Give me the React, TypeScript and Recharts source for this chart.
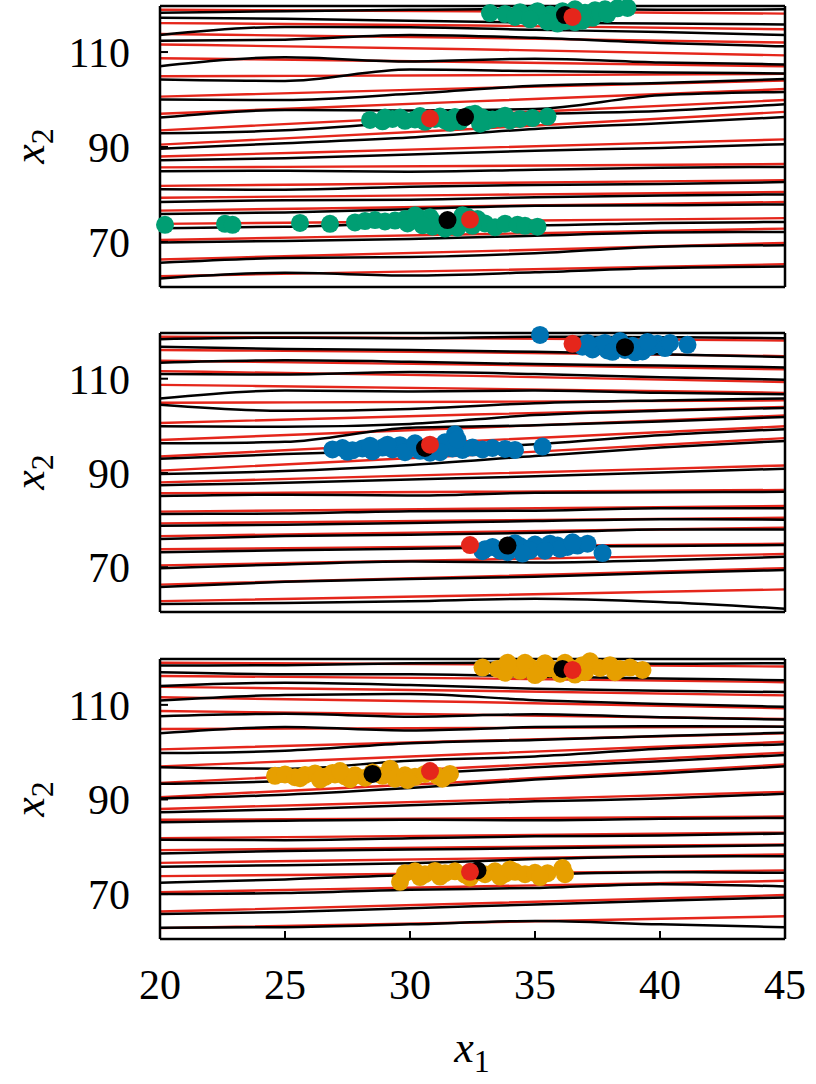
import { ComposedChart, Line, Scatter, XAxis, YAxis } from 'recharts';

// axis ticks
const xTicks = [20, 25, 30, 35, 40, 45];
const xTicksInner = [25, 30, 35, 40];
const yTicks = [70, 90, 110];

// x positions of the sampled streamlines
const redXs = [20, 32.5, 45];
const blackXs = [20, 25, 30, 35, 40, 45];

// reference streamlines (red), shared by all panels
const redLines = [
  [118.9, 118.6, 118.1],
  [116.1, 115.6, 114.8],
  [113.8, 113.0, 112.0],
  [111.6, 110.6, 109.3],
  [108.7, 107.9, 107.0],
  [104.9, 105.1, 105.4],
  [100.6, 102.4, 104.0],
  [97.0, 99.6, 102.2],
  [93.5, 96.8, 99.9],
  [90.5, 93.8, 97.4],
  [88.0, 89.8, 91.6],
  [85.7, 86.0, 86.4],
  [81.8, 82.4, 83.0],
  [79.3, 79.9, 80.5],
  [76.6, 77.5, 78.4],
  [73.8, 74.4, 75.0],
  [70.4, 71.6, 72.8],
  [66.3, 68.0, 69.8],
  [62.8, 64.0, 65.3],
];

// learned streamlines (black), one set per panel
const blackTop = [
  [118.3, 118.6, 118.9, 119.1, 118.9, 119.0],
  [117.2, 117.0, 116.6, 116.2, 116.0, 115.8],
  [113.6, 115.3, 115.2, 114.7, 114.2, 113.6],
  [112.4, 112.6, 113.6, 113.0, 111.9, 111.2],
  [107.0, 108.9, 108.0, 108.6, 107.8, 107.4],
  [104.2, 103.9, 106.3, 106.0, 105.7, 105.5],
  [100.0, 99.9, 101.2, 102.9, 103.5, 104.3],
  [96.2, 97.8, 97.7, 98.0, 100.9, 101.6],
  [92.9, 93.5, 95.3, 96.9, 97.6, 99.0],
  [89.6, 90.8, 92.0, 93.8, 95.0, 96.3],
  [87.2, 87.6, 88.4, 89.2, 89.8, 90.6],
  [84.9, 85.0, 84.8, 85.2, 85.6, 85.8],
  [81.1, 81.0, 81.6, 82.0, 82.2, 82.6],
  [78.4, 78.8, 78.9, 79.4, 79.8, 80.0],
  [75.9, 76.2, 76.9, 77.6, 77.7, 77.9],
  [72.9, 73.2, 73.8, 73.5, 74.0, 74.2],
  [69.9, 70.2, 70.6, 71.3, 72.0, 72.1],
  [65.6, 66.6, 66.8, 67.6, 69.0, 69.3],
  [62.3, 63.5, 62.9, 63.6, 64.5, 64.8],
];

const blackMid = [
  [118.4, 118.7, 118.6, 118.9, 118.8, 118.6],
  [116.8, 116.3, 116.1, 115.7, 115.2, 114.6],
  [113.4, 113.9, 113.6, 113.1, 112.8, 112.4],
  [111.0, 110.9, 111.4, 111.0, 110.3, 109.8],
  [105.8, 107.5, 107.3, 107.5, 107.0, 106.7],
  [104.5, 103.2, 103.6, 104.8, 105.4, 105.8],
  [99.9, 99.8, 100.4, 102.3, 103.2, 103.8],
  [96.3, 96.6, 99.6, 100.1, 100.9, 101.9],
  [93.0, 94.0, 94.8, 96.1, 98.0, 99.3],
  [89.8, 90.4, 91.7, 93.6, 95.4, 96.8],
  [87.4, 87.9, 88.6, 89.3, 90.1, 90.9],
  [85.1, 85.4, 85.2, 85.8, 85.9, 86.0],
  [81.3, 81.4, 81.9, 82.0, 82.5, 82.5],
  [78.8, 79.0, 79.4, 79.8, 80.2, 80.1],
  [76.0, 76.6, 76.9, 77.3, 78.0, 78.0],
  [73.2, 73.6, 73.9, 74.3, 74.5, 74.7],
  [69.8, 70.6, 71.2, 71.0, 71.5, 72.2],
  [65.8, 66.9, 67.5, 68.0, 68.8, 69.4],
  [62.2, 62.4, 62.8, 63.3, 62.6, 61.2],
];

const blackLow = [
  [118.3, 118.4, 118.8, 118.9, 118.7, 118.8],
  [116.9, 116.5, 116.5, 116.0, 115.6, 115.2],
  [114.0, 114.7, 114.2, 113.4, 113.0, 112.7],
  [110.9, 112.1, 112.3, 111.0, 110.2, 109.6],
  [107.6, 108.1, 107.5, 108.0, 107.4, 106.9],
  [104.0, 105.3, 104.6, 105.3, 105.5, 105.4],
  [99.8, 100.3, 101.9, 102.6, 103.4, 104.1],
  [96.8, 96.5, 98.2, 99.1, 100.7, 101.7],
  [93.3, 93.9, 95.4, 96.8, 98.1, 99.4],
  [90.2, 91.0, 92.4, 94.2, 95.5, 97.0],
  [87.3, 87.9, 88.8, 89.6, 90.2, 91.2],
  [85.2, 85.5, 85.7, 85.6, 85.9, 86.1],
  [81.5, 81.4, 81.8, 82.2, 82.4, 82.8],
  [78.6, 79.1, 79.4, 79.7, 80.0, 80.3],
  [75.8, 76.1, 76.5, 77.4, 77.9, 78.0],
  [72.4, 73.1, 74.0, 74.2, 74.6, 74.5],
  [70.0, 70.2, 70.9, 71.3, 72.1, 71.6],
  [65.8, 66.2, 67.0, 67.8, 68.6, 69.3],
  [62.9, 63.0, 63.6, 64.3, 63.6, 63.0],
];

// sample clouds
const greenCloud = [
  [33.2, 118.2], [33.8, 118.0], [34.4, 118.4], [34.9, 118.0], [35.3, 117.4], [35.8, 116.8],
  [35.6, 117.9], [36.1, 118.6], [36.6, 119.0], [37.0, 118.3], [37.4, 118.8], [37.8, 119.0],
  [38.3, 119.2], [38.7, 119.3], [36.2, 116.5], [36.8, 117.0], [37.3, 117.2], [34.6, 117.6],
  [35.1, 118.6], [36.9, 116.6], [35.5, 116.4], [34.2, 117.4], [37.6, 118.2], [36.4, 117.6],
  [35.9, 116.0], [36.6, 116.3], [34.8, 116.9], [37.9, 118.0],
  [28.4, 95.7], [28.9, 95.4], [29.3, 95.9], [29.8, 95.5], [30.2, 95.8], [30.6, 95.3],
  [31.0, 95.9], [31.4, 95.6], [31.8, 96.3], [32.0, 95.4], [32.4, 96.8], [32.6, 97.0],
  [32.9, 96.2], [33.3, 95.8], [33.6, 96.0], [34.0, 95.6], [34.4, 95.9], [34.9, 96.1],
  [35.5, 96.4], [31.2, 96.4], [33.0, 95.3], [29.6, 96.2], [30.4, 96.5], [31.6, 95.1],
  [32.8, 94.9], [33.8, 96.6], [29.0, 96.2],
  [20.2, 73.6], [22.6, 73.8], [22.9, 73.6], [25.6, 74.0], [26.8, 73.8], [27.8, 74.1],
  [28.2, 74.4], [28.6, 74.6], [29.0, 74.3], [29.4, 74.5], [29.8, 74.8], [30.1, 74.6],
  [30.4, 75.0], [30.7, 74.4], [31.0, 74.0], [31.3, 73.6], [31.6, 73.4], [32.0, 74.2],
  [32.3, 75.3], [32.7, 74.8], [33.0, 73.9], [33.4, 73.1], [33.8, 73.8], [34.3, 73.6],
  [34.6, 73.4], [35.1, 73.2], [30.8, 75.2], [29.9, 73.9], [30.9, 73.2], [31.9, 73.0],
  [30.2, 75.6], [32.5, 73.4], [31.4, 72.8], [30.5, 73.5], [32.1, 75.6],
];

const blueCloud = [
  [35.2, 119.3], [36.9, 116.8], [37.3, 116.2], [37.6, 117.2], [37.9, 116.0], [38.3, 117.5],
  [38.6, 116.1], [38.9, 117.0], [39.3, 115.8], [39.6, 116.8], [39.9, 117.4], [40.2, 116.5],
  [39.0, 115.6], [37.8, 117.6], [41.1, 117.2], [38.1, 115.7], [40.4, 117.6], [39.5, 117.8],
  [37.1, 117.6], [38.4, 118.0],
  [26.9, 95.0], [27.3, 95.3], [27.7, 94.8], [28.1, 95.2], [28.5, 94.6], [28.9, 95.4],
  [29.3, 95.0], [29.6, 95.9], [30.0, 95.3], [30.4, 94.7], [31.0, 95.5], [31.4, 96.5],
  [31.8, 98.2], [31.7, 95.2], [32.1, 94.9], [32.5, 95.4], [32.9, 95.0], [33.3, 95.3],
  [33.8, 95.1], [34.2, 94.9], [35.3, 95.6], [27.5, 94.5], [29.8, 94.4], [31.2, 94.4],
  [29.1, 96.0], [30.2, 96.3], [28.4, 95.8], [31.9, 97.1], [30.8, 94.3],
  [33.0, 73.8], [33.3, 74.3], [33.6, 73.5], [34.0, 74.0], [34.4, 74.5], [34.7, 73.9],
  [35.0, 74.8], [35.3, 74.2], [35.6, 75.0], [35.9, 74.6], [36.3, 74.3], [36.7, 74.6],
  [37.1, 75.0], [37.7, 73.0], [33.9, 73.2], [34.8, 73.6], [32.9, 73.4], [36.0, 73.9],
  [34.2, 75.1], [35.4, 73.5], [34.5, 72.9], [36.5, 75.3],
];

const orangeCloud = [
  [32.9, 117.9], [33.5, 117.6], [34.0, 118.3], [34.4, 117.2], [34.8, 118.0], [35.2, 116.9],
  [35.6, 117.7], [36.0, 116.6], [36.4, 117.9], [36.9, 118.4], [37.2, 119.2], [37.6, 117.8],
  [38.0, 118.4], [38.4, 117.6], [38.8, 117.9], [39.3, 117.4], [35.4, 118.8], [33.8, 116.8],
  [37.0, 116.9], [34.6, 118.9], [36.2, 118.9], [33.9, 118.9], [38.2, 116.9], [35.0, 116.3],
  [36.6, 116.4],
  [24.6, 95.0], [25.0, 95.3], [25.4, 94.7], [25.8, 95.2], [26.2, 95.5], [26.6, 94.8],
  [27.0, 95.3], [27.4, 94.9], [27.8, 95.1], [28.2, 94.6], [28.9, 95.0], [29.2, 96.5],
  [29.4, 94.4], [29.8, 95.1], [30.2, 94.8], [30.6, 95.4], [31.1, 95.0], [31.6, 95.4],
  [31.3, 94.4], [25.6, 94.5], [26.9, 95.6], [27.6, 94.3], [28.5, 95.7], [26.4, 94.2],
  [29.9, 94.1], [27.2, 96.0],
  [29.6, 72.6], [29.8, 74.4], [30.2, 74.8], [30.6, 74.2], [31.0, 74.9], [31.4, 74.4],
  [31.8, 74.8], [32.2, 74.1], [32.6, 74.6], [33.0, 74.2], [33.4, 74.8], [33.8, 74.3],
  [34.2, 74.7], [34.6, 74.2], [35.0, 74.5], [35.5, 74.4], [36.1, 75.5], [36.2, 74.2],
  [30.4, 73.6], [33.6, 73.7], [31.2, 73.7], [34.0, 75.2], [32.4, 73.5], [35.2, 73.6],
];

// true states (red) and estimates (black)
const truePoints = [[36.5, 117.4], [30.8, 96.0], [32.4, 74.7]];
const estTop = [[36.2, 117.8], [32.2, 96.3], [31.5, 74.6]];
const estMid = [[38.6, 116.7], [30.6, 95.3], [33.9, 74.6]];
const estLow = [[36.1, 117.6], [28.5, 95.4], [32.7, 75.0]];

const RED = '#e5261b';
const FONT = '"Liberation Serif", "Times New Roman", serif';

const rows = (xs: number[], ys: number[]) => xs.map((x, i) => ({ x, y: ys[i] }));
const pts = (p: number[][]) => p.map(([x, y]) => ({ x, y }));
const dot = (fill: string) => (p: any) => <circle cx={p.cx} cy={p.cy} r={9} fill={fill} />;

const frame = { stroke: '#000', strokeWidth: 2.5 };
const tickLine = { stroke: '#000', strokeWidth: 2 };

const Panel = ({ top, mTop, plotH, blacks, cloud, color, est, last }: any) => {
  const bottomH = last ? 135 : 1;
  const mBottom = last ? 0 : 9;
  return (
    <div style={{ position: 'absolute', left: 0, top }}>
      <ComposedChart
        width={816}
        height={mTop + 1 + plotH + bottomH + mBottom}
        margin={{ top: mTop, right: 0, bottom: mBottom, left: 0 }}
      >
        <XAxis
          dataKey="x"
          type="number"
          domain={[20, 45]}
          ticks={last ? xTicks : xTicksInner}
          height={bottomH}
          tickSize={-8}
          tickMargin={38}
          tick={last ? { fontSize: 42, fontFamily: FONT, fill: '#000' } : false}
          axisLine={frame}
          tickLine={tickLine}
        />
        <XAxis
          xAxisId="top"
          orientation="top"
          type="number"
          domain={[20, 45]}
          ticks={xTicksInner}
          height={1}
          tickSize={-8}
          tick={false}
          axisLine={frame}
          tickLine={tickLine}
        />
        <YAxis
          dataKey="y"
          type="number"
          domain={[60.5, 119.7]}
          ticks={yTicks}
          width={160}
          tickSize={-8}
          tickMargin={38}
          tick={{ fontSize: 42, fontFamily: FONT, fill: '#000' }}
          axisLine={frame}
          tickLine={tickLine}
        />
        <YAxis
          yAxisId="right"
          orientation="right"
          type="number"
          domain={[60.5, 119.7]}
          ticks={yTicks}
          width={31}
          tickSize={-8}
          tick={false}
          axisLine={frame}
          tickLine={tickLine}
        />
        {redLines.map((ys, i) => (
          <Line key={'r' + i} data={rows(redXs, ys)} dataKey="y" type="monotone" stroke={RED}
            strokeWidth={2.4} dot={false} isAnimationActive={false} />
        ))}
        {blacks.map((ys: number[], i: number) => (
          <Line key={'b' + i} data={rows(blackXs, ys)} dataKey="y" type="monotone" stroke="#000"
            strokeWidth={2.5} dot={false} isAnimationActive={false} />
        ))}
        <Scatter data={pts(cloud)} dataKey="y" shape={dot(color)} isAnimationActive={false} />
        <Scatter data={pts(est)} dataKey="y" shape={dot('#000')} isAnimationActive={false} />
        <Scatter data={pts(truePoints)} dataKey="y" shape={dot(RED)} isAnimationActive={false} />
      </ComposedChart>
    </div>
  );
};

const YTitle = ({ cy }: { cy: number }) => (
  <text transform={`translate(44,${cy}) rotate(-90)`} textAnchor="middle" fontFamily={FONT} fontSize={44}>
    <tspan fontStyle="italic">x</tspan>
    <tspan fontSize={32} dy={9}>2</tspan>
  </text>
);

export default function App() {
  return (
    <div style={{ position: 'absolute', left: 0, top: 0, width: 816, height: 1084, background: '#fff' }}>
      <Panel top={0} mTop={5} plotH={281} blacks={blackTop} cloud={greenCloud} color="#009e73" est={estTop} />
      <Panel top={323} mTop={9} plotH={279} blacks={blackMid} cloud={blueCloud} color="#0072b2" est={estMid} />
      <Panel top={649} mTop={9} plotH={280} blacks={blackLow} cloud={orangeCloud} color="#e69f00" est={estLow} last />
      <svg width={816} height={1084} style={{ position: 'absolute', left: 0, top: 0, pointerEvents: 'none' }}>
        <YTitle cy={146} />
        <YTitle cy={472} />
        <YTitle cy={799} />
        <text x={472} y={1062} textAnchor="middle" fontFamily={FONT} fontSize={44}>
          <tspan fontStyle="italic">x</tspan>
          <tspan fontSize={32} dy={10}>1</tspan>
        </text>
      </svg>
    </div>
  );
}
